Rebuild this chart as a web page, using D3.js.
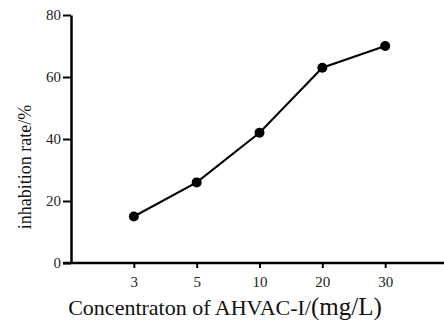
<!DOCTYPE html>
<html><head><meta charset="utf-8">
<script src="https://cdn.jsdelivr.net/npm/d3@7"></script>
<style>body{margin:0;background:#fff}svg{display:block}</style>
</head><body>
<svg id="c" width="444" height="320"></svg>
<script>
const categories = ["3", "5", "10", "20", "30"];
const values = [15, 26, 42, 63, 70];
const yTicks = [0, 20, 40, 60, 80];

const svg = d3.select("#c");
const font = "'Liberation Serif','Times New Roman',serif";
const x = d3.scalePoint().domain(categories).range([71, 448]).padding(1);
const y = d3.scaleLinear().domain([0, 80]).range([263, 15]);

// y axis
const ya = svg.append("g").attr("transform", "translate(71,0)")
  .call(d3.axisLeft(y).tickValues(yTicks).tickSize(8).tickSizeOuter(0).tickPadding(2));
ya.select(".domain").attr("stroke", "#000").attr("stroke-width", 2.5);
ya.selectAll(".tick line").attr("stroke-width", 2);
ya.selectAll(".tick text").attr("font-family", font).attr("font-size", 15).attr("fill", "#222");

// x axis
const xa = svg.append("g").attr("transform", "translate(0,263)")
  .call(d3.axisBottom(x).tickSize(5).tickPadding(8));
xa.select(".domain").remove();
xa.selectAll(".tick line").attr("stroke-width", 2);
xa.selectAll(".tick text").attr("font-family", font).attr("font-size", 15).attr("fill", "#222");
xa.append("line").attr("x1", 63).attr("x2", 444).attr("y1", 0).attr("y2", 0)
  .attr("stroke", "#000").attr("stroke-width", 2.5);

// line
const line = d3.line().x((d, i) => x(categories[i])).y(d => y(d));
svg.append("path").datum(values).attr("d", line)
  .attr("fill", "none").attr("stroke", "#000").attr("stroke-width", 2);
svg.selectAll("circle.pt").data(values).enter().append("circle")
  .attr("class", "pt")
  .attr("cx", (d, i) => x(categories[i])).attr("cy", d => y(d)).attr("r", 5).attr("fill", "#000");

// titles
const t = svg.append("text").attr("x", 225).attr("y", 315).attr("text-anchor", "middle")
  .attr("font-family", font).attr("fill", "#111");
t.append("tspan").attr("font-size", 22).text("Concentraton of AHVAC-I/");
t.append("tspan").attr("font-size", 25).text("(mg/L)");

svg.append("text").attr("transform", "translate(31,167) rotate(-90)")
  .attr("text-anchor", "middle").attr("font-family", font).attr("font-size", 18)
  .attr("fill", "#111").text("inhabition rate/%");
</script>
</body></html>
